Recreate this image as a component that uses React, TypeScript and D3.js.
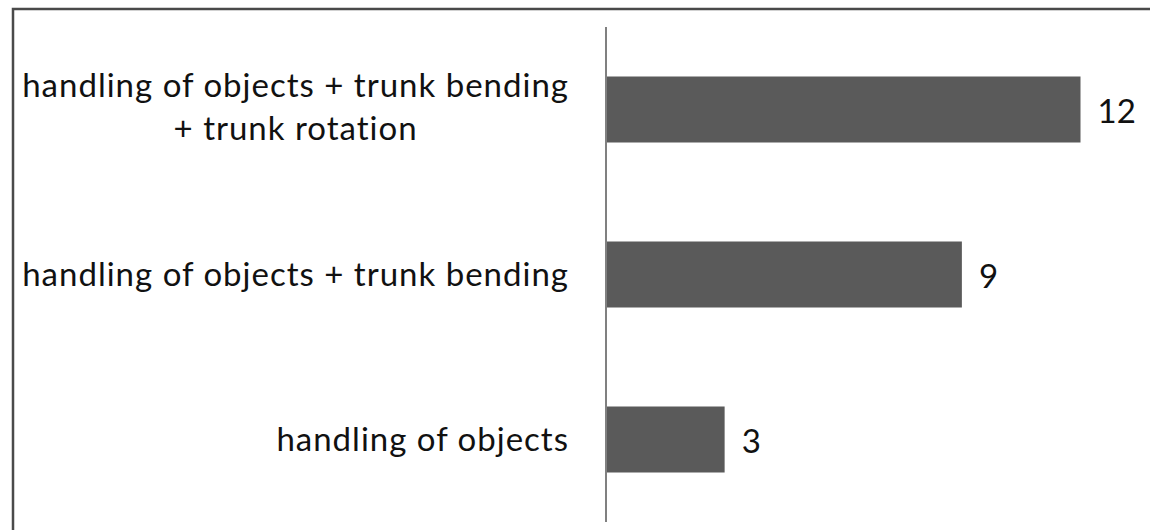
import React, { useEffect, useRef } from "react";
import * as d3 from "d3";

// Categories (top to bottom) and their counts
const categories = [
  "handling of objects + trunk bending + trunk rotation",
  "handling of objects + trunk bending",
  "handling of objects",
];
const values = [12, 9, 3];
// How each category label wraps onto lines
const labelLines = [
  ["handling of objects + trunk bending", "+ trunk rotation"],
  ["handling of objects + trunk bending"],
  ["handling of objects"],
];

const WIDTH = 1150;
const HEIGHT = 530;
const FONT = "Lato, 'Open Sans', sans-serif";
const FONT_SIZE = 33;

export default function App() {
  const ref = useRef<SVGSVGElement | null>(null);

  useEffect(() => {
    const svg = d3.select(ref.current);
    svg.selectAll("*").remove();

    const axisX = 606;
    const x = d3.scaleLinear().domain([0, 12]).range([axisX, 1080.5]);
    const y = d3
      .scaleBand<string>()
      .domain(categories)
      .range([27, 522])
      .paddingInner(0.6)
      .paddingOuter(0.3);

    // outer frame
    svg
      .append("rect")
      .attr("x", 13)
      .attr("y", 9)
      .attr("width", WIDTH + 20)
      .attr("height", HEIGHT + 20)
      .attr("fill", "none")
      .attr("stroke", "#4a4a4a")
      .attr("stroke-width", 2.5);

    const data = categories.map((c, i) => ({ c, v: values[i], lines: labelLines[i] }));

    // bars
    svg
      .append("g")
      .selectAll("rect")
      .data(data)
      .join("rect")
      .attr("x", x(0))
      .attr("y", (d) => y(d.c)!)
      .attr("width", (d) => x(d.v) - x(0))
      .attr("height", y.bandwidth())
      .attr("fill", "#5a5a5a");

    // category axis line
    svg
      .append("line")
      .attr("x1", axisX)
      .attr("x2", axisX)
      .attr("y1", y.range()[0])
      .attr("y2", y.range()[1])
      .attr("stroke", "#808080")
      .attr("stroke-width", 2);

    // value labels
    svg
      .append("g")
      .selectAll("text")
      .data(data)
      .join("text")
      .attr("x", (d) => x(d.v) + 17)
      .attr("y", (d) => y(d.c)! + y.bandwidth() / 2 + 13)
      .attr("font-family", FONT)
      .attr("font-size", FONT_SIZE)
      .attr("fill", "#111")
      .text((d) => String(d.v));

    // category labels: lines centered on each other, block right-aligned near the axis
    const labelRight = 569;
    const lineGap = 43;
    const lg = svg.append("g");
    data.forEach((d) => {
      const cy = y(d.c)! + y.bandwidth() / 2;
      const n = d.lines.length;
      const base = n > 1 ? cy + 9 : cy + 11;
      const t = lg
        .append("text")
        .attr("font-family", FONT)
        .attr("font-size", FONT_SIZE)
        .attr("letter-spacing", 1)
        .style("font-variant-ligatures", "none")
        .attr("fill", "#111")
        .attr("text-anchor", "middle");
      const spans = d.lines.map((line, k) =>
        t
          .append("tspan")
          .attr("y", base + (k - (n - 1) / 2) * lineGap)
          .text(line)
      );
      const widths = spans.map((s) => (s.node() as SVGTSpanElement).getComputedTextLength());
      const maxW = Math.max(...widths);
      spans.forEach((s) => s.attr("x", labelRight - maxW / 2));
    });
  }, []);

  return (
    <svg
      ref={ref}
      width={WIDTH}
      height={HEIGHT}
      style={{ position: "absolute", left: 0, top: 0, background: "#fff" }}
    />
  );
}
